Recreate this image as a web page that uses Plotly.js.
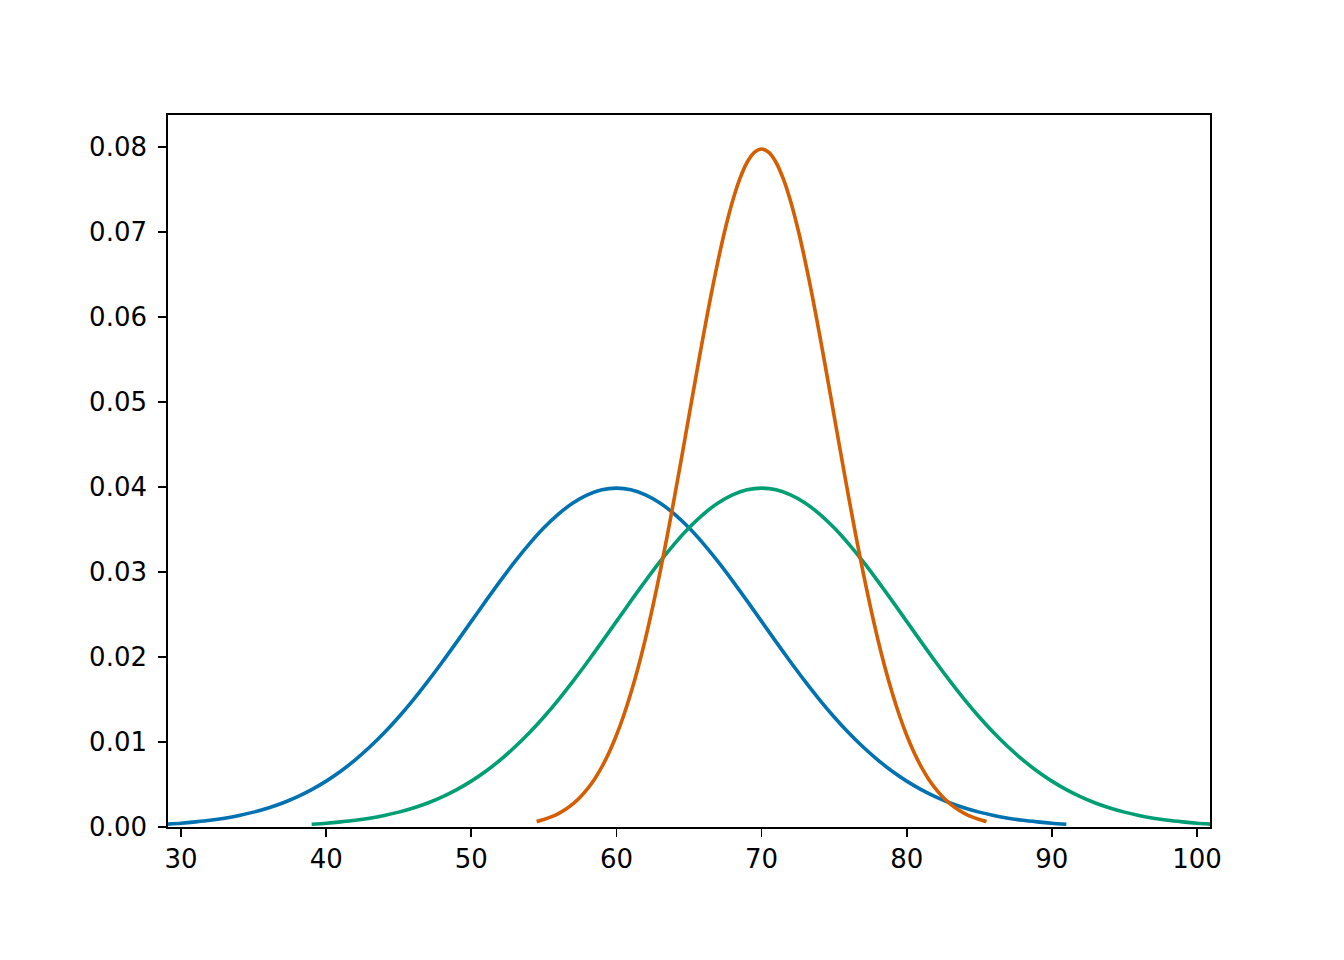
<!DOCTYPE html>
<html>
<head>
<meta charset="utf-8">
<script src="https://cdn.plot.ly/plotly-3.0.1.min.js"></script>
<style>html,body{margin:0;padding:0;background:#fff;}</style>
</head>
<body>
<div id="chart" style="width:1344px;height:960px;"></div>
<script>
// Blue curve (centre 60)
var blueX = [29,30,31,32,33,34,35,36,37,38,39,40,41,42,43,44,45,46,47,48,49,50,51,52,53,54,55,56,57,58,59,60,61,62,63,64,65,66,67,68,69,70,71,72,73,74,75,76,77,78,79,80,81,82,83,84,85,86,87,88,89,90,91];
var blueY = [0.00033,0.00044,0.00060,0.00079,0.00104,0.00136,0.00175,0.00224,0.00283,0.00355,0.00440,0.00540,0.00656,0.00790,0.00941,0.01109,0.01295,0.01497,0.01714,0.01942,0.02179,0.02420,0.02661,0.02897,0.03123,0.03332,0.03521,0.03683,0.03814,0.03910,0.03970,0.03989,0.03970,0.03910,0.03814,0.03683,0.03521,0.03332,0.03123,0.02897,0.02661,0.02420,0.02179,0.01942,0.01714,0.01497,0.01295,0.01109,0.00941,0.00790,0.00656,0.00540,0.00440,0.00355,0.00283,0.00224,0.00175,0.00136,0.00104,0.00079,0.00060,0.00044,0.00033];
// Green curve (centre 70)
var greenX = [39,40,41,42,43,44,45,46,47,48,49,50,51,52,53,54,55,56,57,58,59,60,61,62,63,64,65,66,67,68,69,70,71,72,73,74,75,76,77,78,79,80,81,82,83,84,85,86,87,88,89,90,91,92,93,94,95,96,97,98,99,100,101];
var greenY = [0.00033,0.00044,0.00060,0.00079,0.00104,0.00136,0.00175,0.00224,0.00283,0.00355,0.00440,0.00540,0.00656,0.00790,0.00941,0.01109,0.01295,0.01497,0.01714,0.01942,0.02179,0.02420,0.02661,0.02897,0.03123,0.03332,0.03521,0.03683,0.03814,0.03910,0.03970,0.03989,0.03970,0.03910,0.03814,0.03683,0.03521,0.03332,0.03123,0.02897,0.02661,0.02420,0.02179,0.01942,0.01714,0.01497,0.01295,0.01109,0.00941,0.00790,0.00656,0.00540,0.00440,0.00355,0.00283,0.00224,0.00175,0.00136,0.00104,0.00079,0.00060,0.00044,0.00033];
// Orange curve (narrow, centre 70)
var orangeX = [54.5,55,55.5,56,56.5,57,57.5,58,58.5,59,59.5,60,60.5,61,61.5,62,62.5,63,63.5,64,64.5,65,65.5,66,66.5,67,67.5,68,68.5,69,69.5,70,70.5,71,71.5,72,72.5,73,73.5,74,74.5,75,75.5,76,76.5,77,77.5,78,78.5,79,79.5,80,80.5,81,81.5,82,82.5,83,83.5,84,84.5,85,85.5];
var orangeY = [0.00065,0.00089,0.00119,0.00158,0.00208,0.00272,0.00351,0.00448,0.00566,0.00709,0.00880,0.01080,0.01312,0.01579,0.01881,0.02218,0.02590,0.02995,0.03427,0.03884,0.04357,0.04839,0.05322,0.05794,0.06245,0.06664,0.07041,0.07365,0.07628,0.07821,0.07939,0.07979,0.07939,0.07821,0.07628,0.07365,0.07041,0.06664,0.06245,0.05794,0.05322,0.04839,0.04357,0.03884,0.03427,0.02995,0.02590,0.02218,0.01881,0.01579,0.01312,0.01080,0.00880,0.00709,0.00566,0.00448,0.00351,0.00272,0.00208,0.00158,0.00119,0.00089,0.00065];

var xTicks = [30,40,50,60,70,80,90,100];
var yTicks = [0.00,0.01,0.02,0.03,0.04,0.05,0.06,0.07,0.08];

function tr(x, y, c) {
  return {x: x, y: y, type: 'scatter', mode: 'lines', line: {color: c, width: 3.6, shape: 'spline', smoothing: 0.8}, hoverinfo: 'skip', showlegend: false};
}
var data = [tr(blueX, blueY, '#0072B2'), tr(greenX, greenY, '#009E73'), tr(orangeX, orangeY, '#D55E00')];

var axisCommon = {
  showline: true, mirror: true, linecolor: '#000', linewidth: 1.8,
  ticks: 'outside', ticklen: 8, tickwidth: 1.8, tickcolor: '#000',
  showgrid: false, zeroline: false,
  tickfont: {family: 'DejaVu Sans', size: 26, color: '#000'}
};
var layout = {
  width: 1344, height: 960,
  margin: {l: 168, r: 134, t: 115, b: 133},
  paper_bgcolor: '#fff', plot_bgcolor: '#fff',
  xaxis: Object.assign({}, axisCommon, {range: [29.1, 100.9], tickvals: xTicks, ticktext: xTicks.map(String), ticklabelstandoff: 0}),
  yaxis: Object.assign({}, axisCommon, {range: [0, 0.0838], tickvals: yTicks, ticktext: yTicks.map(function(v){return v.toFixed(2);}), ticklabelstandoff: 6}),
  showlegend: false
};
Plotly.newPlot('chart', data, layout, {staticPlot: true, displayModeBar: false});
</script>
</body>
</html>
